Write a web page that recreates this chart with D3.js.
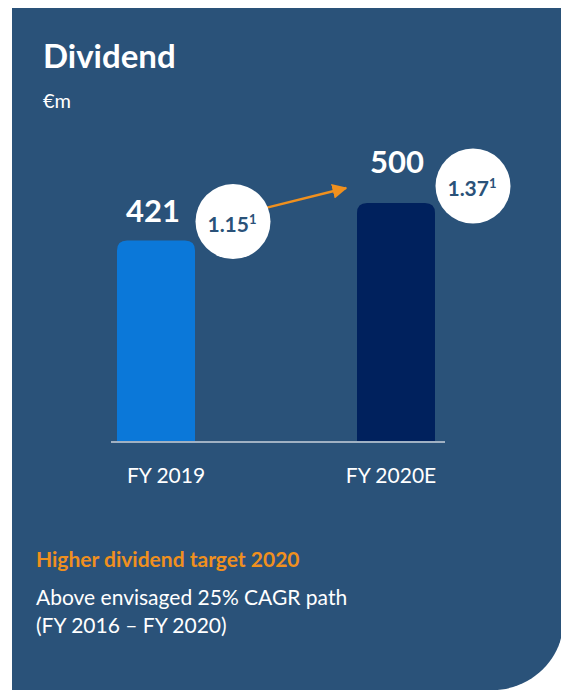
<!DOCTYPE html>
<html><head><meta charset="utf-8">
<script src="https://cdn.jsdelivr.net/npm/d3@7"></script>
<style>html,body{margin:0;padding:0;background:#fff;}svg{display:block;}</style>
</head><body>
<svg id="c" width="561" height="690"></svg>
<script>
const categories = ["FY 2019", "FY 2020E"];
const values = [421, 500];
const perShare = ["1.15", "1.37"];
const footnote = "1";
const title = "Dividend";
const unit = "€m";
const noteHead = "Higher dividend target 2020";
const noteLines = ["Above envisaged 25% CAGR path", "(FY 2016 – FY 2020)"];

const FONT = "Lato, 'Open Sans', sans-serif";
const svg = d3.select("#c");

// panel
svg.append("path")
  .attr("d", "M12,8 H561 V638 C555,664 528,690 493,690 H12 Z")
  .attr("fill", "#2a5279");

svg.append("text").attr("x", 43).attr("y", 68).text(title)
  .attr("font-family", FONT).attr("font-weight", 700).attr("font-size", 33).attr("fill", "#fff");
svg.append("text").attr("x", 43).attr("y", 108).text(unit)
  .attr("font-family", FONT).attr("font-size", 20).attr("fill", "#fff");

const x = d3.scalePoint().domain(categories).range([156, 396]);
const y = d3.scaleLinear().domain([0, 500]).range([441, 203]);
const bw = 78, r = 10;
const colors = ["#0b78d9", "#00215d"];

function barPath(cx, top, bottom) {
  const l = cx - bw / 2, rr = cx + bw / 2;
  return `M${l},${bottom} V${top + r} Q${l},${top} ${l + r},${top} H${rr - r} Q${rr},${top} ${rr},${top + r} V${bottom} Z`;
}

svg.selectAll(".bar").data(values).enter().append("path")
  .attr("d", (d, i) => barPath(x(categories[i]), y(d), y(0)))
  .attr("fill", (d, i) => colors[i]);

// baseline
svg.append("line").attr("x1", 111).attr("x2", 445).attr("y1", y(0) + 1).attr("y2", y(0) + 1)
  .attr("stroke", "#c9d2dc").attr("stroke-width", 1.5);

// category labels
svg.selectAll(".cat").data(categories).enter().append("text")
  .attr("x", (d, i) => x(d) + (i === 0 ? 10 : -5)).attr("y", 483)
  .attr("text-anchor", "middle").text(d => d)
  .attr("font-family", FONT).attr("font-size", 21).attr("fill", "#fff");

// value labels
svg.selectAll(".val").data(values).enter().append("text")
  .attr("x", (d, i) => x(categories[i]) + (i === 0 ? -3 : 1)).attr("y", (d, i) => y(d) - (i === 0 ? 19 : 30))
  .attr("text-anchor", "middle").text(d => d)
  .attr("font-family", FONT).attr("font-weight", 700).attr("font-size", 31).attr("fill", "#fff");

// arrow
const cxs = values.map((d, i) => x(categories[i]) + 77);
const cys = values.map((d, i) => y(d) - (i === 0 ? 19 : 17));
const defs = svg.append("defs");
defs.append("marker").attr("id", "ah").attr("viewBox", "0 0 10 10").attr("refX", 9).attr("refY", 5)
  .attr("markerWidth", 6).attr("markerHeight", 6).attr("markerUnits", "strokeWidth").attr("orient", "auto")
  .append("path").attr("d", "M0,0 L10,5 L0,10 Z").attr("fill", "#f0901e");
svg.append("line")
  .attr("x1", cxs[0] + 34).attr("y1", cys[0] - 14)
  .attr("x2", x(categories[1]) - 50).attr("y2", y(values[1]) - 15)
  .attr("stroke", "#f0901e").attr("stroke-width", 2.5).attr("marker-end", "url(#ah)");

// circles
const g = svg.selectAll(".ps").data(perShare).enter().append("g");
g.append("circle").attr("cx", (d, i) => cxs[i]).attr("cy", (d, i) => cys[i]).attr("r", 37.5).attr("fill", "#fff");
const t = g.append("text").attr("x", (d, i) => cxs[i] - 1).attr("y", (d, i) => cys[i] + 10)
  .attr("text-anchor", "middle").attr("font-family", FONT).attr("font-weight", 700).attr("fill", "#2a5279");
t.append("tspan").attr("font-size", 21).text(d => d);
t.append("tspan").attr("font-size", 13).attr("dy", -8).text(footnote);

// notes
svg.append("text").attr("x", 36).attr("y", 567).text(noteHead)
  .attr("font-family", FONT).attr("font-weight", 700).attr("font-size", 21).attr("fill", "#f0901e");
svg.selectAll(".nl").data(noteLines).enter().append("text")
  .attr("x", 36).attr("y", (d, i) => 605 + i * 28).text(d => d)
  .attr("font-family", FONT).attr("font-size", 21).attr("fill", "#fff");
</script>
</body></html>
